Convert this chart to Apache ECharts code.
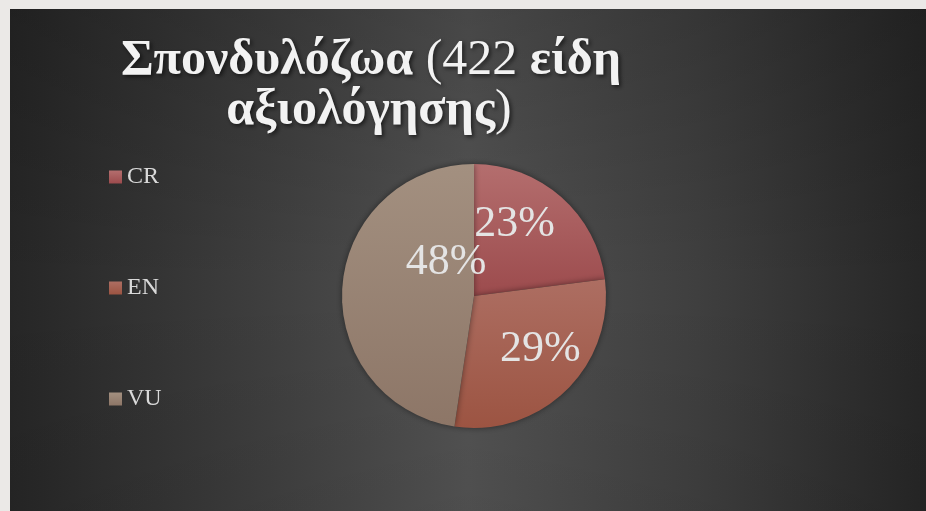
<!DOCTYPE html>
<html>
<head>
<meta charset="utf-8">
<script src="https://cdn.jsdelivr.net/npm/echarts@6/dist/echarts.min.js"></script>
<style>
html,body{margin:0;padding:0;background:#ebe9e7;}
#c{width:926px;height:511px;}
</style>
</head>
<body>
<div id="c"></div>
<script>
const categories = ['CR', 'EN', 'VU'];
const values = [97, 124, 201];
const titleLine1 = ['Σπονδυλόζωα ', '(422 ', 'είδη'];
const titleLine2 = ['αξιολόγησης', ')'];

const sliceColors = [
  ['#b46e6e', '#9c4b4d'],
  ['#ad6e62', '#9c5442'],
  ['#a39080', '#8d7667']
];
const labelOffsets = [[-5, -20], [18, 4], [41, -28]];

const chart = echarts.init(document.getElementById('c'));

const grad = (c) => ({
  type: 'linear', x: 0, y: 0, x2: 0, y2: 1,
  colorStops: [{offset: 0, color: c[0]}, {offset: 1, color: c[1]}]
});

const shadow = {textShadowColor: 'rgba(0,0,0,0.6)', textShadowBlur: 4, textShadowOffsetX: 2, textShadowOffsetY: 2};
const titleRich = {
  b: Object.assign({fontFamily: 'Liberation Serif', fontWeight: 'bold', fontSize: 50, fill: '#f2f2f2'}, shadow),
  n: Object.assign({fontFamily: 'Liberation Serif', fontWeight: 'normal', fontSize: 50, fill: '#f2f2f2'}, shadow)
};

chart.setOption({
  backgroundColor: '#ebe9e7',
  graphic: [
    {type: 'rect', left: 10, top: 9, z: -10, silent: true,
     shape: {width: 916, height: 502},
     style: {fill: {type: 'linear', x: 0, y: 0, x2: 1, y2: 0, colorStops: [
       {offset: 0, color: '#262626'}, {offset: 0.25, color: '#3c3c3c'},
       {offset: 0.5, color: '#535353'}, {offset: 0.75, color: '#3f3f3f'}, {offset: 1, color: '#262626'}]}}},
    {type: 'rect', left: 10, top: 9, z: -9, silent: true,
     shape: {width: 916, height: 502},
     style: {fill: {type: 'linear', x: 0, y: 0, x2: 0, y2: 1, colorStops: [
       {offset: 0, color: 'rgba(0,0,0,0.15)'}, {offset: 0.55, color: 'rgba(0,0,0,0)'},
       {offset: 1, color: 'rgba(0,0,0,0.06)'}]}}},
    {type: 'text', x: 371, y: 86, z: 10,
     style: {text: '{b|' + titleLine1[0] + '}{n|' + titleLine1[1] + '}{b|' + titleLine1[2] + '}',
             rich: titleRich, align: 'center', verticalAlign: 'bottom'}},
    {type: 'text', x: 369, y: 136, z: 10,
     style: {text: '{b|' + titleLine2[0] + '}{n|' + titleLine2[1] + '}',
             rich: titleRich, align: 'center', verticalAlign: 'bottom'}}
  ],
  legend: {
    orient: 'vertical', left: 109, top: 165, padding: 0,
    itemWidth: 13, itemHeight: 13, itemGap: 87, icon: 'rect',
    data: categories,
    textStyle: {fontFamily: 'Liberation Serif', fontSize: 24, color: '#d9d9d9'}
  },
  series: [{
    type: 'pie',
    center: [474, 296],
    radius: 132,
    startAngle: 90,
    clockwise: true,
    avoidLabelOverlap: false,
    animation: false,
    labelLine: {show: false},
    labelLayout: {hideOverlap: false},
    data: categories.map((name, i) => ({
      name, value: values[i],
      itemStyle: {color: grad(sliceColors[i])},
      label: {offset: labelOffsets[i]}
    })),
    itemStyle: {shadowBlur: 6, shadowColor: 'rgba(0,0,0,0.45)', borderWidth: 0},
    label: {
      show: true, position: 'inside',
      formatter: (p) => Math.round(p.percent) + '%',
      fontFamily: 'Liberation Serif', fontSize: 44, color: '#e4e4e4'
    },
    emphasis: {disabled: true}
  }]
});
</script>
</body>
</html>
